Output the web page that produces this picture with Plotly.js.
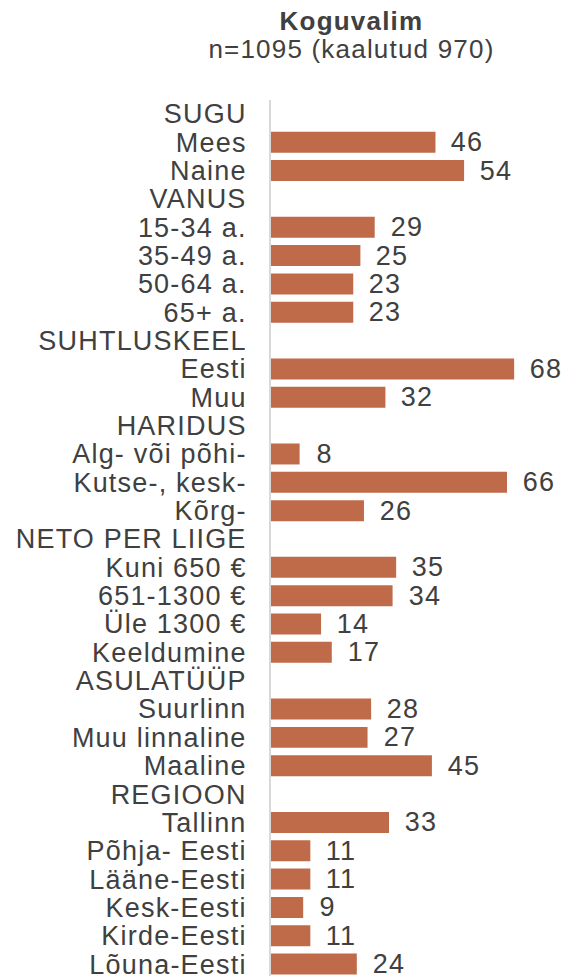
<!DOCTYPE html>
<html><head><meta charset="utf-8">
<script src="https://cdn.plot.ly/plotly-3.0.1.min.js"></script>
<style>html,body{margin:0;padding:0;background:#fff;} #chart svg text{letter-spacing:1.2px;}</style>
</head><body>
<div id="chart" style="width:566px;height:976px;"></div>
<script>
const categories = ["SUGU","Mees","Naine","VANUS","15-34 a.","35-49 a.","50-64 a.","65+ a.",
  "SUHTLUSKEEL","Eesti","Muu","HARIDUS","Alg- või põhi-","Kutse-, kesk-","Kõrg-",
  "NETO PER LIIGE","Kuni 650 €","651-1300 €","Üle 1300 €","Keeldumine",
  "ASULATÜÜP","Suurlinn","Muu linnaline","Maaline",
  "REGIOON","Tallinn","Põhja- Eesti","Lääne-Eesti","Kesk-Eesti","Kirde-Eesti","Lõuna-Eesti"];
const values = [null,46,54,null,29,25,23,23,null,68,32,null,8,66,26,null,35,34,14,17,null,28,27,45,null,33,11,11,9,11,24];
const titleText = "Koguvalim";
const subtitleText = "n=1095 (kaalutud 970)";

const FONT = "Liberation Sans, Arial, sans-serif";
const TXT = "#404040";
const FS = 27;

// plot area in pixels: left 271, right 566, top 100, bottom 976
const pxX = x => (x - 271) / 295;
const pxY = y => (976 - y) / 876;

const annotations = [];
categories.forEach((c, i) => {
  if (values[i] !== null) {
    annotations.push({x: values[i], y: c, xref: 'x', yref: 'y', text: String(values[i]),
      showarrow: false, xanchor: 'left', yanchor: 'middle', xshift: 15,
      font: {family: FONT, size: FS, color: TXT}});
  }
});
annotations.push({x: pxX(351), y: pxY(21), xref: 'paper', yref: 'paper',
  text: '<b>' + titleText + '</b>', showarrow: false, xanchor: 'center', yanchor: 'middle',
  font: {family: FONT, size: 26, color: TXT}});
annotations.push({x: pxX(351), y: pxY(49), xref: 'paper', yref: 'paper',
  text: subtitleText, showarrow: false, xanchor: 'center', yanchor: 'middle',
  font: {family: FONT, size: 26, color: TXT}});

const trace = {
  type: 'bar', orientation: 'h', y: categories, x: values,
  width: 0.74,
  marker: {color: '#bf6b4a', line: {width: 0}},
  hoverinfo: 'skip'
};

const layout = {
  width: 566, height: 976,
  margin: {l: 271, r: 0, t: 100, b: 0, pad: 0},
  paper_bgcolor: '#ffffff', plot_bgcolor: '#ffffff',
  showlegend: false,
  font: {family: FONT, size: FS, color: TXT},
  xaxis: {range: [0, 82.5], showgrid: false, zeroline: false, showline: false,
    showticklabels: false, ticks: ''},
  yaxis: {type: 'category', range: [30.42, -0.49], showgrid: false, zeroline: false,
    showline: true, linecolor: '#d9d9d9', linewidth: 2, ticks: '',
    tickmode: 'array', tickvals: categories, ticktext: categories,
    ticklabelstandoff: 17,
    tickfont: {family: FONT, size: FS, color: TXT}, automargin: false},
  annotations: annotations
};

Plotly.newPlot('chart', [trace], layout, {staticPlot: true, displayModeBar: false});
</script>
</body></html>
